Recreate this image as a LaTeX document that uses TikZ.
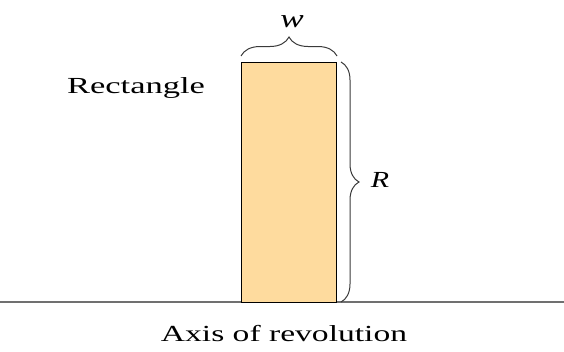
\documentclass[tikz,border=0pt]{standalone}
\usepackage{fontspec}
\setmainfont{Liberation Serif}
\usetikzlibrary{decorations.pathreplacing}
\definecolor{rectfill}{HTML}{FEDB9E}
\definecolor{axisgray}{HTML}{707070}
\definecolor{bracegray}{HTML}{3A3A3A}
\tikzset{
  lbl/.style={inner sep=0pt, font=\fontsize{23}{27}\selectfont},
  bracestyle/.style={draw=bracegray, line width=1pt, decorate, decoration={brace, amplitude=#1}},
}
\begin{document}
\begin{tikzpicture}[x=1pt,y=-1pt]
\useasboundingbox (0,0) rectangle (564,351);
\draw[axisgray, line width=1.3pt] (0,302) coordinate (axL) -- (564,302) coordinate (axR);
\node[draw=black, line width=1.1pt, fill=rectfill, minimum width=95pt, minimum height=240pt, inner sep=0pt, anchor=north west] (rect) at (241,62) {};
\coordinate (tbL) at (241,56);
\coordinate (tbR) at (337,56);
\draw[bracestyle=19pt] (tbL) -- (tbR);
\coordinate (rbT) at (341,62);
\coordinate (rbB) at (341,302);
\draw[bracestyle=18pt] (rbT) -- (rbB);
\node[lbl] (w) at (292,22) {\scalebox{1.35}[1]{\fontsize{26}{30}\selectfont\itshape w}};
\node[lbl] (R) at (380,180) {\scalebox{1.3}[1]{\itshape R}};
\node[lbl] (rectlbl) at (136,88) {\scalebox{1.5}[1]{Rectangle}};
\node[lbl] (axlbl) at (284,334) {\scalebox{1.46}[1]{Axis of revolution}};
\end{tikzpicture}
\end{document}
